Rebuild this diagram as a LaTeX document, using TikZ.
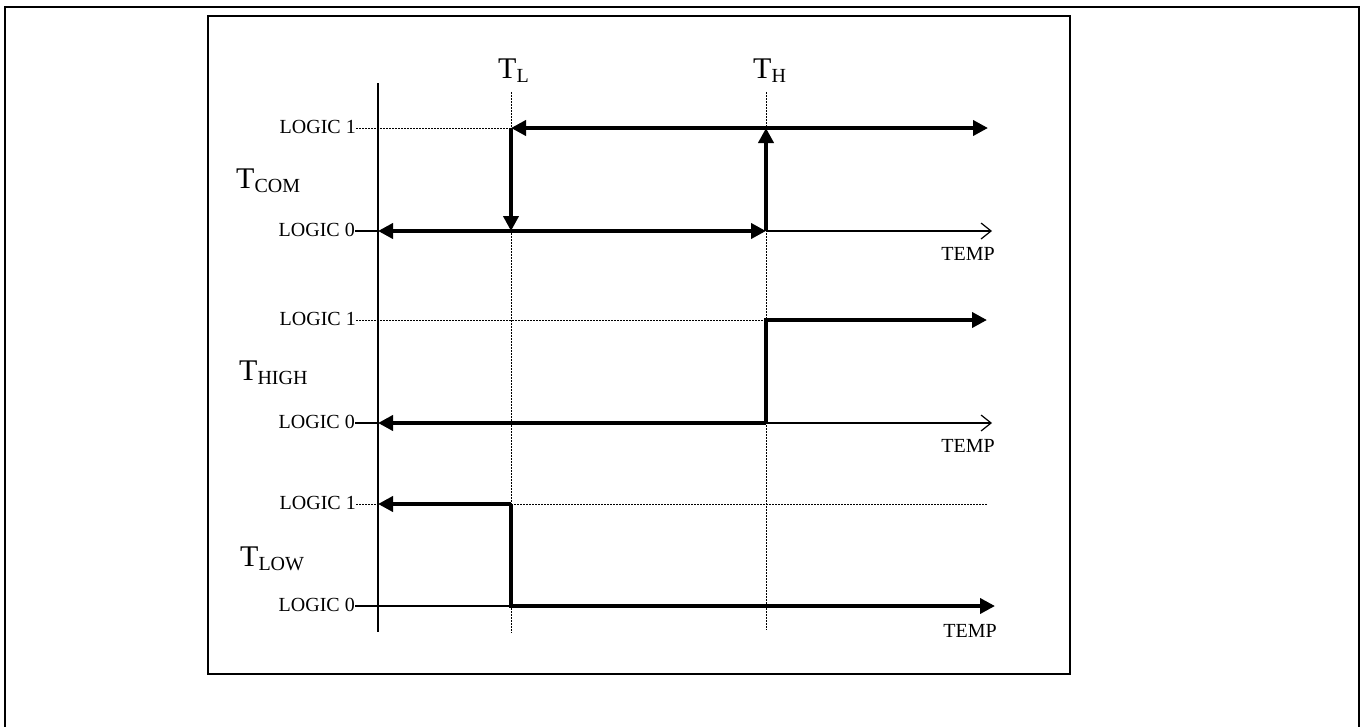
\documentclass[tikz,border=0pt]{standalone}
\usepackage{fontspec}
\setmainfont{Liberation Serif}
\usetikzlibrary{arrows.meta}
\newcommand\siglab[2]{{\fontsize{30}{30}\selectfont #1}\raisebox{-4pt}{\fontsize{20}{20}\selectfont #2}}
\begin{document}
\begin{tikzpicture}[x=1pt,y=-1pt,
  frame/.style={line width=2pt},
  boxline/.style={line width=1.8pt},
  axisline/.style={line width=1.2pt},
  sig/.style={line width=4pt},
  thinline/.style={line width=1.2pt},
  dotline/.style={line width=1pt, dash pattern=on 1.5pt off 1.5pt},
  bigtip/.style={-{Triangle[length=15pt,width=15pt]}},
  bothtip/.style={{Triangle[length=15pt,width=15pt]}-{Triangle[length=15pt,width=15pt]}},
  lefttip/.style={{Triangle[length=15pt,width=15pt]}-},
  opentip/.style={-{Straight Barb[length=10pt,width=16pt]}},
  logic/.style={anchor=base east, inner sep=0pt, font=\fontsize{20}{24}\selectfont},
  templab/.style={anchor=base east, inner sep=0pt, font=\fontsize{20}{24}\selectfont},
  siglabel/.style={anchor=base west, inner sep=0pt}
]
\useasboundingbox (0,0) rectangle (1362,726);
% frames
\draw[frame] (5,760) -- (5,7) -- (1359,7) -- (1359,760);
\draw[boxline] (208,16) rectangle (1070,674);

% vertical axis and threshold lines
\coordinate (axT) at (378,83);
\coordinate (axB) at (378,632);
\draw[axisline] (axT) -- (axB);
\coordinate (tlT) at (511,92);
\coordinate (tlB) at (511,633);
\coordinate (thT) at (766,92);
\coordinate (thB) at (766,630);
\draw[dotline] (tlT) -- (tlB);
\draw[dotline] (thT) -- (thB);
\node[siglabel] (TL) at (498,78) {\siglab{T}{L}};
\node[siglabel] (TH) at (753,78) {\siglab{T}{H}};

% ---------- T_COM ----------
\node[siglabel] (tcom) at (236,188) {\siglab{T}{COM}};
\node[logic] (c1) at (356,133) {LOGIC 1};
\node[logic] (c0) at (355,236) {LOGIC 0};
\coordinate (c1s) at (356,128);
\coordinate (c0s) at (355,231);
\coordinate (c1a) at (378,128);
\coordinate (c0a) at (378,231);
\coordinate (c1L) at (511,128);
\coordinate (c0L) at (511,231);
\coordinate (c1H) at (766,128);
\coordinate (c0H) at (766,231);
\coordinate (c1E) at (988,128);
\coordinate (c0E) at (992,231);
\draw[dotline] (c1s) -- (c1L);
\draw[thinline] (c0s) -- (c0a);
\draw[thinline,opentip] (c0H) -- (c0E);
\draw[sig,bothtip] (c0a) -- (c0H);
\draw[sig,bothtip] (c1L) -- (c1E);
\draw[sig,bigtip] (c1L) -- (c0L);
\draw[sig,bigtip] (c0H) -- (c1H);
\node[templab] (temp1) at (995,260) {TEMP};

% ---------- T_HIGH ----------
\node[siglabel] (thigh) at (239,380) {\siglab{T}{HIGH}};
\node[logic] (h1) at (356,325) {LOGIC 1};
\node[logic] (h0) at (355,428) {LOGIC 0};
\coordinate (h1s) at (356,320);
\coordinate (h0s) at (355,423);
\coordinate (h0a) at (378,423);
\coordinate (h1H) at (766,320);
\coordinate (h0H) at (766,423);
\coordinate (h1E) at (987,320);
\coordinate (h0E) at (992,423);
\draw[dotline] (h1s) -- (h1H);
\draw[thinline] (h0s) -- (h0a);
\draw[thinline,opentip] (h0H) -- (h0E);
\draw[sig,lefttip] (h0a) -- (h0H);
\draw[sig,bigtip] (h0H) -- (h1H) -- (h1E);
\node[templab] (temp2) at (995,452) {TEMP};

% ---------- T_LOW ----------
\node[siglabel] (tlow) at (240,566) {\siglab{T}{LOW}};
\node[logic] (l1) at (356,509) {LOGIC 1};
\node[logic] (l0) at (355,611) {LOGIC 0};
\coordinate (l1s) at (356,504);
\coordinate (l0s) at (355,606);
\coordinate (l1a) at (378,504);
\coordinate (l1L) at (511,504);
\coordinate (l0L) at (511,606);
\coordinate (l1E) at (988,504);
\coordinate (l0E) at (995,606);
\draw[dotline] (l1s) -- (l1a);
\draw[dotline] (l1L) -- (l1E);
\draw[thinline] (l0s) -- (l0L);
\draw[sig,lefttip] (l1a) -- (l1L);
\draw[sig,bigtip] (l1L) -- (l0L) -- (l0E);
\node[templab] (temp3) at (997,637) {TEMP};
\end{tikzpicture}
\end{document}
